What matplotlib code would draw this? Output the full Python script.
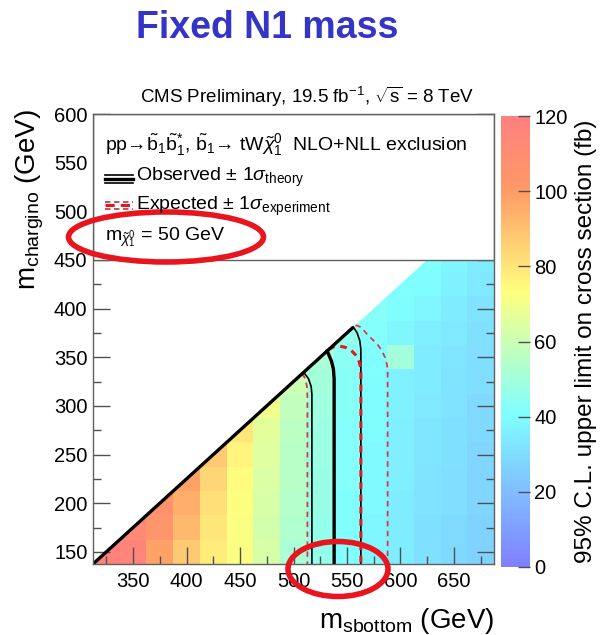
import numpy as np
import matplotlib
matplotlib.use("Agg")
import matplotlib.pyplot as plt
from matplotlib.colors import LinearSegmentedColormap, Normalize
from matplotlib.patches import Polygon, Rectangle, Ellipse
from matplotlib.lines import Line2D
import matplotlib.cm as cm

plt.rcParams['font.family'] = ['Liberation Sans', 'DejaVu Sans']
plt.rcParams['mathtext.fontset'] = 'custom'
plt.rcParams['mathtext.rm'] = 'Liberation Sans'
plt.rcParams['mathtext.it'] = 'Liberation Sans:italic'
plt.rcParams['mathtext.bf'] = 'Liberation Sans:bold'
plt.rcParams['mathtext.sf'] = 'Liberation Sans'

# ---------------- data ----------------
sbottom_mass = [325, 350, 375, 400, 425, 450, 475, 500, 525, 550, 575, 600, 625, 650, 675]
chargino_mass = [150, 175, 200, 225, 250, 275, 300, 325, 350, 375, 400, 425, 450]
n = np.nan
limit_fb = [
    [118, 116, 98, 88, 78, 72, 63, 52, 46, 41, 38, 35, 31, 29, 27],   # 150
    [n, 112, 104, 92, 80, 72, 62, 53, 46, 41, 38, 35, 31, 29, 27],    # 175
    [n, n, 106, 95, 82, 73, 63, 54, 47, 41, 39, 35, 32, 30, 28],      # 200
    [n, n, n, 98, 84, 74, 64, 55, 47, 42, 39, 36, 32, 30, 28],        # 225
    [n, n, n, n, 88, 76, 65, 55, 48, 42, 39, 36, 33, 31, 28],         # 250
    [n, n, n, n, n, 80, 66, 56, 48, 42, 40, 36, 33, 31, 29],          # 275
    [n, n, n, n, n, n, 70, 58, 49, 43, 40, 37, 34, 32, 29],           # 300
    [n, n, n, n, n, n, n, 60, 50, 43, 40, 37, 35, 32, 30],            # 325
    [n, n, n, n, n, n, n, n, 52, 44, 41, 50, 35, 33, 30],             # 350
    [n, n, n, n, n, n, n, n, n, 46, 42, 38, 36, 34, 31],              # 375
    [n, n, n, n, n, n, n, n, n, n, 43, 40, 38, 35, 32],               # 400
    [n, n, n, n, n, n, n, n, n, n, n, 41, 40, 37, 34],                # 425
    [n, n, n, n, n, n, n, n, n, n, n, n, 41, 38, 35],                 # 450
]

# exclusion contours (m_sbottom, m_chargino)
obs_x = [538, 538, 537.3, 535.5, 531.5]
obs_y = [137.5, 328, 338, 346, 356.5]
obs_m1_x = [517.2, 517.2, 516.5, 514, 509.5]
obs_m1_y = [137.5, 312, 320, 328, 334.5]
obs_p1_x = [563, 563, 562, 559.5, 556]
obs_p1_y = [137.5, 358, 367, 375, 381]
exp_x = [533, 538, 543, 549, 554, 558, 561, 562.7, 563, 563]
exp_y = [358, 361, 361.5, 360, 357, 352.5, 347, 340, 332, 137.5]
exp_p1_x = [558, 563, 569.4, 575, 579, 583, 585.5, 587.5, 588, 588]
exp_p1_y = [383, 381, 373, 367, 362.5, 356, 350, 342, 334, 137.5]
exp_m1_x = [508, 511, 512.5, 513, 513]
exp_m1_y = [333, 328, 320, 310, 137.5]
diag_x = [312.5, 556]
diag_y = [137.5, 381]

cbar_ticks = [0, 20, 40, 60, 80, 100, 120]
x_ticks = [350, 400, 450, 500, 550, 600, 650]
y_ticks = [150, 200, 250, 300, 350, 400, 450, 500, 550, 600]

# ---------------- figure ----------------
W, H = 601, 635
fig = plt.figure(figsize=(W / 100, H / 100), dpi=100)
def fx(p): return p / W
def fy(p): return 1 - p / H

ax = fig.add_axes([fx(93), fy(564), (494 - 93) / W, (564 - 114) / H])
cax = fig.add_axes([fx(501), fy(567), 29 / W, (567 - 116) / H])

cmap = LinearSegmentedColormap.from_list(
    "susy", [(0.0, (0.5, 0.5, 1.0)), (0.34, (0.5, 1.0, 1.0)), (0.61, (1.0, 1.0, 0.5)),
             (0.84, (1.0, 0.6, 0.4)), (1.0, (1.0, 0.5, 0.5))])
norm = Normalize(0, 120)

xc = np.array(sbottom_mass, float)
yc = np.array(chargino_mass, float)
xe = np.concatenate([xc - 12.5, [xc[-1] + 12.5]])
ye = np.concatenate([yc - 12.5, [yc[-1] + 12.5]])
Z = np.ma.masked_invalid(np.array(limit_fb, float))
mesh = ax.pcolormesh(xe, ye, Z, cmap=cmap, norm=norm, shading='flat', zorder=1)
clip = Polygon([(312.5, 137.5), (687.5, 137.5), (687.5, 512.5)], closed=True,
               transform=ax.transData, facecolor='none', edgecolor='none')
ax.add_patch(clip)
mesh.set_clip_path(clip)

ax.set_xlim(312.5, 687.5)
ax.set_ylim(137.5, 600)

# contours
ax.plot(exp_m1_x, exp_m1_y, color='#d23c4a', lw=1.3, ls=(0, (3, 2.5)), zorder=4)
ax.plot(exp_p1_x, exp_p1_y, color='#d23c4a', lw=1.3, ls=(0, (3, 2.5)), zorder=4)
ax.plot(obs_m1_x, obs_m1_y, color='black', lw=1.2, zorder=5)
ax.plot(obs_p1_x, obs_p1_y, color='black', lw=1.2, zorder=5)
ax.plot(exp_x, exp_y, color='#e01a1a', lw=2.2, ls=(0, (2.2, 1.8)), zorder=6)
ax.plot(obs_x, obs_y, color='black', lw=2.4, zorder=7)
ax.plot(diag_x, diag_y, color='black', lw=2.4, zorder=7, solid_capstyle='butt')

# legend box
ax.add_patch(Rectangle((312.5, 450), 375, 150, facecolor='white', edgecolor='#606060',
                       lw=1.0, zorder=8))

for s in ax.spines.values():
    s.set_color('#606060')
    s.set_linewidth(1.0)
    s.set_zorder(9)

ax.set_xticks(x_ticks)
ax.set_yticks(y_ticks)
ax.set_xticks(np.arange(325, 700, 25), minor=True)
ax.set_yticks(np.arange(150, 601, 25), minor=True)
ax.tick_params(which='both', direction='in', right=True, top=False, colors='#505050',
               labelcolor='black', labelsize=14.5, zorder=10)
ax.tick_params(which='major', length=12, width=1.0)
ax.tick_params(which='minor', length=6, width=1.0)
ax.tick_params(axis='x', pad=6)
ax.tick_params(axis='y', pad=4)
ax.set_axisbelow(False)

# colorbar
cb = fig.colorbar(cm.ScalarMappable(norm=norm, cmap=cmap), cax=cax)
cb.set_ticks(cbar_ticks)
cb.outline.set_visible(False)
cax.tick_params(direction='in', length=9, width=1.0, colors='#505050', labelcolor='black',
                labelsize=14.5, pad=3)

# texts
fig.text(fx(267), fy(28), "Fixed N1 mass", fontsize=27, weight='bold', color='#3434c8',
         ha='center', va='center')
fig.text(fx(307), fy(97), r"CMS Preliminary, 19.5 fb$^{-1}$, $\sqrt{\mathrm{s}}$ = 8 TeV",
         fontsize=13.5, ha='center', va='center')
fig.text(fx(30), fy(109), r"m$_{\mathrm{chargino}}$ (GeV)", fontsize=20, rotation=90,
         ha='center', va='top')
fig.text(fx(494), fy(628), r"m$_{\mathrm{sbottom}}$ (GeV)", fontsize=20,
         ha='right', va='baseline')
fig.text(fx(586), fy(341), "95% C.L. upper limit on cross section (fb)", fontsize=17.5,
         rotation=90, ha='center', va='center')

fig.text(fx(105), fy(145),
         r"pp→$\tilde{\mathrm{b}}_1\tilde{\mathrm{b}}_1^{*}$, $\tilde{\mathrm{b}}_1$→ tW$\tilde{\chi}^0_1$  NLO+NLL exclusion",
         fontsize=14, ha='left', va='center', zorder=20)
fig.text(fx(136), fy(177), r"Observed $\pm$ 1$\sigma_{\mathrm{theory}}$", fontsize=14,
         ha='left', va='center')
fig.text(fx(136), fy(206), r"Expected $\pm$ 1$\sigma_{\mathrm{experiment}}$", fontsize=14,
         ha='left', va='center')
fig.text(fx(105), fy(237), r"m$_{\tilde{\chi}^0_1}$ = 50 GeV", fontsize=14,
         ha='left', va='center')

for yy, lw in [(175, 1.2), (179, 2.4), (183.3, 1.2)]:
    fig.add_artist(Line2D([fx(105), fx(133)], [fy(yy), fy(yy)], color='black', lw=lw))
for yy, lw, c in [(201.5, 1.3, '#d23c4a'), (205, 2.2, '#e01a1a'), (208.5, 1.3, '#d23c4a')]:
    fig.add_artist(Line2D([fx(105), fx(133)], [fy(yy), fy(yy)], color=c, lw=lw,
                          ls=(0, (3, 2))))

# red annotation ellipses
fig.add_artist(Ellipse((fx(166), fy(237)), 195 / W, 50 / H, fill=False,
                       edgecolor='#e8141e', lw=4))
fig.add_artist(Ellipse((fx(338), fy(569)), 100 / W, 55 / H, fill=False,
                       edgecolor='#e8141e', lw=4))

fig.savefig("out.png", dpi=100)
